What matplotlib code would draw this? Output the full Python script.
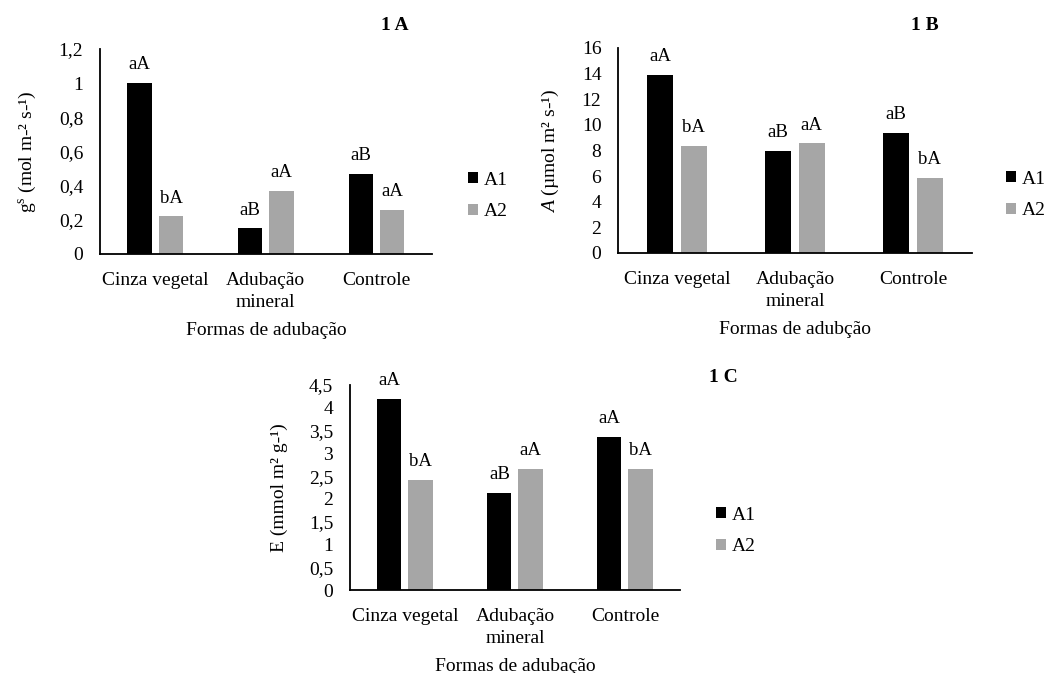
import matplotlib.pyplot as plt
import numpy as np

plt.rcParams['font.family'] = ['Liberation Serif', 'DejaVu Serif']
plt.rcParams['mathtext.fontset'] = 'custom'
plt.rcParams['mathtext.rm'] = 'Liberation Serif'
plt.rcParams['mathtext.it'] = 'Liberation Serif:style=italic'

categorias = ['Cinza vegetal', 'Adubação\nmineral', 'Controle']
series = ['A1', 'A2']

gs_A1 = [1.0, 0.15, 0.47]
gs_A2 = [0.22, 0.37, 0.26]
gs_let_A1 = ['aA', 'aB', 'aB']
gs_let_A2 = ['bA', 'aA', 'aA']

A_A1 = [13.9, 7.98, 9.39]
A_A2 = [8.35, 8.56, 5.88]
A_let_A1 = ['aA', 'aB', 'aB']
A_let_A2 = ['bA', 'aA', 'bA']

E_A1 = [4.19, 2.13, 3.37]
E_A2 = [2.42, 2.66, 2.66]
E_let_A1 = ['aA', 'aB', 'aA']
E_let_A2 = ['bA', 'aA', 'bA']

cores = ['#000000', '#A6A6A6']
fs = 14

fig = plt.figure(figsize=(10.5, 6.73), dpi=100)

def painel(rect, v1, v2, l1, l2, ymax, ystep, ylabel, xlabel):
    ax = fig.add_axes(rect)
    x = np.arange(len(categorias))
    w = 0.22
    b1 = ax.bar(x - 0.142, v1, w, color=cores[0], label=series[0])
    b2 = ax.bar(x + 0.142, v2, w, color=cores[1], label=series[1])
    for bars, labs in ((b1, l1), (b2, l2)):
        for b, t in zip(bars, labs):
            ax.annotate(t, (b.get_x() + b.get_width() / 2, b.get_height()),
                        xytext=(0, 7), textcoords='offset points',
                        ha='center', va='bottom', fontsize=13.5)
    ax.set_xlim(-0.5, 2.5)
    ax.set_ylim(0, ymax)
    ticks = np.arange(0, ymax + ystep / 2, ystep)
    ax.set_yticks(ticks)
    ax.set_yticklabels([('%g' % round(t, 2)).replace('.', ',') for t in ticks])
    ax.set_xticks(x)
    ax.set_xticklabels(categorias, linespacing=1.35)
    ax.tick_params(length=0, labelsize=fs)
    ax.tick_params(axis='y', pad=12)
    ax.tick_params(axis='x', pad=13)
    for s in ('top', 'right'):
        ax.spines[s].set_visible(False)
    for s in ('left', 'bottom'):
        ax.spines[s].set_linewidth(1.3)
    ax.set_ylabel(ylabel, fontsize=fs, labelpad=15)
    ax.set_xlabel(xlabel, fontsize=fs, labelpad=8)
    return ax

axA = painel([0.0952, 0.6226, 0.316, 0.3046], gs_A1, gs_A2, gs_let_A1, gs_let_A2,
             1.2, 0.2, 'g$^{\\mathrm{s}}$ (mol m-² s-¹)', 'Formas de adubação')
axB = painel([0.5886, 0.6241, 0.337, 0.3046], A_A1, A_A2, A_let_A1, A_let_A2,
             16, 2, '$\\mathit{A}$ (µmol m² s-¹)', 'Formas de adubção')
axC = painel([0.3333, 0.1233, 0.3143, 0.3046], E_A1, E_A2, E_let_A1, E_let_A2,
             4.5, 0.5, 'E (mmol m² g-¹)', 'Formas de adubação')

for ax, (lx, ly), (tx, ty), tit in (
        (axA, (460, 196), (395, 26), '1 A'),
        (axB, (998, 195), (925, 25), '1 B'),
        (axC, (708, 531), (723, 378), '1 C')):
    ax.legend(loc='center left', bbox_to_anchor=(lx / 1050, 1 - ly / 673),
              bbox_transform=fig.transFigure, frameon=False, fontsize=fs,
              handlelength=0.5, handleheight=0.5, handletextpad=0.3,
              labelspacing=0.75, borderaxespad=0)
    fig.text(tx / 1050, 1 - ty / 673, tit, ha='center', va='center',
             fontsize=fs, fontweight='bold')

fig.savefig('out.png', dpi=100)
